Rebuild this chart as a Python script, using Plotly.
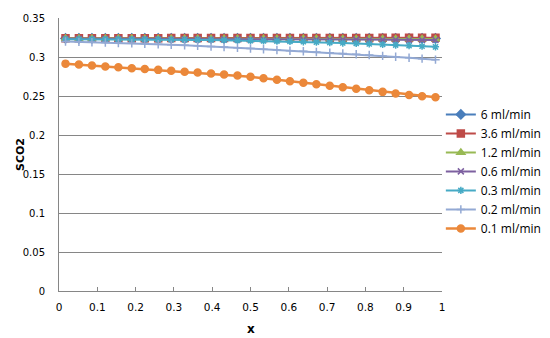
import plotly.graph_objects as go

x_vals = [0.017, 0.052, 0.086, 0.121, 0.155, 0.190, 0.224, 0.259, 0.293, 0.328,
          0.362, 0.397, 0.431, 0.466, 0.500, 0.534, 0.569, 0.603, 0.638, 0.672,
          0.707, 0.741, 0.776, 0.810, 0.845, 0.879, 0.914, 0.948, 0.983]

s_6 = [0.3238, 0.3238, 0.3238, 0.3238, 0.3238, 0.3238, 0.3238, 0.3238, 0.3238, 0.3238,
       0.3238, 0.3238, 0.3238, 0.3238, 0.3238, 0.3238, 0.3238, 0.3238, 0.3238, 0.3238,
       0.3238, 0.3238, 0.3238, 0.3238, 0.3238, 0.3238, 0.3238, 0.3238, 0.3238]
s_3_6 = [0.3240, 0.3240, 0.3240, 0.3240, 0.3241, 0.3241, 0.3241, 0.3241, 0.3242, 0.3242,
         0.3242, 0.3242, 0.3243, 0.3243, 0.3243, 0.3243, 0.3244, 0.3244, 0.3244, 0.3244,
         0.3245, 0.3245, 0.3245, 0.3245, 0.3246, 0.3246, 0.3246, 0.3247, 0.3247]
s_1_2 = [0.3236, 0.3236, 0.3236, 0.3236, 0.3236, 0.3236, 0.3235, 0.3235, 0.3235, 0.3235,
         0.3235, 0.3234, 0.3234, 0.3234, 0.3234, 0.3234, 0.3233, 0.3233, 0.3233, 0.3233,
         0.3233, 0.3232, 0.3232, 0.3232, 0.3232, 0.3232, 0.3231, 0.3231, 0.3231]
s_0_6 = [0.3233, 0.3233, 0.3233, 0.3233, 0.3232, 0.3232, 0.3232, 0.3231, 0.3231, 0.3231,
         0.3230, 0.3230, 0.3229, 0.3229, 0.3228, 0.3228, 0.3227, 0.3226, 0.3226, 0.3225,
         0.3224, 0.3224, 0.3223, 0.3222, 0.3221, 0.3220, 0.3219, 0.3219, 0.3218]
s_0_3 = [0.3228, 0.3228, 0.3227, 0.3226, 0.3225, 0.3224, 0.3223, 0.3222, 0.3221, 0.3220,
         0.3219, 0.3218, 0.3215, 0.3212, 0.3209, 0.3206, 0.3203, 0.3200, 0.3195, 0.3190,
         0.3185, 0.3179, 0.3173, 0.3167, 0.3160, 0.3153, 0.3146, 0.3138, 0.3130]
s_0_2 = [0.3198, 0.3194, 0.3190, 0.3185, 0.3180, 0.3175, 0.3169, 0.3163, 0.3157, 0.3150,
         0.3143, 0.3135, 0.3127, 0.3118, 0.3109, 0.3100, 0.3090, 0.3081, 0.3073, 0.3064,
         0.3055, 0.3045, 0.3035, 0.3025, 0.3014, 0.3003, 0.2991, 0.2979, 0.2966]
s_0_1 = [0.2915, 0.2903, 0.2891, 0.2879, 0.2868, 0.2857, 0.2846, 0.2835, 0.2823, 0.2811,
         0.2800, 0.2789, 0.2777, 0.2763, 0.2746, 0.2727, 0.2708, 0.2690, 0.2671, 0.2652,
         0.2632, 0.2613, 0.2593, 0.2573, 0.2553, 0.2533, 0.2514, 0.2498, 0.2485]

names = ["6 ml/min", "3.6 ml/min", "1.2 ml/min", "0.6 ml/min", "0.3 ml/min", "0.2 ml/min", "0.1 ml/min"]
series = [s_6, s_3_6, s_1_2, s_0_6, s_0_3, s_0_2, s_0_1]
colors = ["#4A7EBB", "#BE4B48", "#98B954", "#7D60A0", "#46AAC5", "#93A9D4", "#EB883A"]
symbols = ["diamond", "square", "triangle-up", "x-thin-open", "asterisk-open", "cross-thin-open", "circle"]
sizes = [7, 7, 7, 6, 6, 6, 7]
widths = [2, 2, 2, 2, 2, 2, 2.5]

y_ticks = [0, 0.05, 0.1, 0.15, 0.2, 0.25, 0.3, 0.35]
y_labels = ["0", "0.05", "0.1", "0.15", "0.2", "0.25", "0.3", "0.35"]
x_ticks = [0, 0.1, 0.2, 0.3, 0.4, 0.5, 0.6, 0.7, 0.8, 0.9, 1]
x_labels = ["0", "0.1", "0.2", "0.3", "0.4", "0.5", "0.6", "0.7", "0.8", "0.9", "1"]

fig = go.Figure()
for nm, ys, c, sym, sz, w in zip(names, series, colors, symbols, sizes, widths):
    fig.add_trace(go.Scatter(
        x=x_vals, y=ys, name=nm, mode="lines+markers",
        line=dict(color=c, width=w),
        marker=dict(symbol=sym, size=sz, color=c, line=dict(color=c, width=1.5)),
        cliponaxis=False,
    ))

# the page body adds an 8px offset, so margins are reduced by 8px on left/top
fig.update_layout(
    width=550, height=338,
    margin=dict(l=51, r=116, t=4, b=55),
    paper_bgcolor="white", plot_bgcolor="white",
    font=dict(family="DejaVu Sans", size=10, color="#000000"),
    showlegend=True,
    legend=dict(x=0.997, xanchor="left", y=0.70, yanchor="top",
                font=dict(family="Open Sans", size=12, color="#000000"),
                bgcolor="rgba(0,0,0,0)", tracegroupgap=0, itemwidth=30),
    xaxis=dict(range=[0, 1], tickvals=x_ticks, ticktext=x_labels,
               showgrid=False, zeroline=False, showline=True, linecolor="#868686", linewidth=1,
               ticks="inside", ticklen=4, tickcolor="#868686", ticklabelstandoff=6,
               ticklabeloverflow="allow",
               tickfont=dict(family="DejaVu Sans", size=10.5)),
    yaxis=dict(range=[0, 0.35], tickvals=y_ticks, ticktext=y_labels,
               showgrid=True, gridcolor="#868686", gridwidth=1, zeroline=False,
               showline=True, linecolor="#868686", linewidth=1, ticks="",
               ticklabelstandoff=11, ticklabeloverflow="allow",
               tickfont=dict(family="DejaVu Sans", size=10)),
    annotations=[
        dict(text="<b>SCO2</b>", xref="paper", yref="paper", x=-0.1227, y=0.5,
             textangle=-90, showarrow=False, font=dict(family="DejaVu Sans", size=11)),
        dict(text="<b>x</b>", xref="paper", yref="paper", x=0.5, y=-0.138,
             showarrow=False, yanchor="middle", font=dict(family="DejaVu Sans", size=12)),
    ],
)

fig.write_html("out.html")
